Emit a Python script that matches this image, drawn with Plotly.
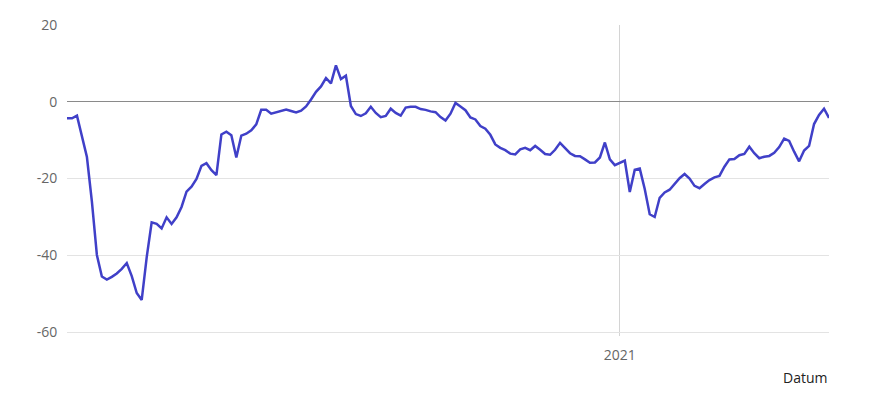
import pandas as pd
import plotly.graph_objects as go

# Values sampled every 3 days starting 2020-02-03
start_date = "2020-02-03"
step = "3D"
values = [
    -4.3, -4.3, -3.6, -9.4, -14.4, -26.0, -39.9, -45.5, -46.3, -45.6,
    -44.7, -43.5, -42.0, -45.4, -49.8, -51.6, -40.5, -31.4, -31.8, -33.0,
    -30.1, -31.8, -30.1, -27.4, -23.4, -22.1, -20.1, -16.7, -16.0, -17.8,
    -19.1, -8.5, -7.8, -8.7, -14.5, -8.8, -8.3, -7.4, -5.9, -2.1,
    -2.1, -3.1, -2.7, -2.3, -2.0, -2.4, -2.8, -2.3, -1.2, 0.6,
    2.6, 4.0, 6.2, 4.8, 9.5, 5.9, 6.8, -1.1, -3.2, -3.7,
    -3.0, -1.3, -2.9, -4.0, -3.7, -1.8, -2.9, -3.6, -1.5, -1.3,
    -1.3, -1.9, -2.1, -2.5, -2.7, -4.0, -4.9, -3.1, -0.3, -1.2,
    -2.2, -4.1, -4.6, -6.3, -7.0, -8.6, -11.1, -12.0, -12.6, -13.5,
    -13.7, -12.4, -12.0, -12.6, -11.5, -12.5, -13.6, -13.8, -12.5, -10.7,
    -12.1, -13.4, -14.1, -14.2, -15.0, -15.9, -15.8, -14.5, -10.6, -15.0,
    -16.5, -15.8, -15.3, -23.5, -17.7, -17.4, -22.7, -29.3, -30.0, -25.0,
    -23.6, -22.9, -21.4, -19.9, -18.8, -20.0, -21.9, -22.5, -21.4, -20.4,
    -19.7, -19.3, -16.9, -15.0, -14.9, -13.9, -13.6, -11.7, -13.4, -14.7,
    -14.3, -14.1, -13.3, -11.8, -9.6, -10.2, -13.0, -15.5, -12.7, -11.5,
    -5.8, -3.4, -1.8, -4.2,
]
dates = pd.date_range(start_date, periods=len(values), freq=step)

y_ticks = [-60, -40, -20, 0, 20]
y_tick_labels = ["-60", "-40", "-20", "0", "20"]
x_ticks = ["2021-01-01"]
x_tick_labels = ["2021"]
x_title = "Datum"

fig = go.Figure()
fig.add_trace(go.Scatter(
    x=dates, y=values, mode="lines",
    line=dict(color="#4040c8", width=2.5),
    hoverinfo="skip", showlegend=False,
))

fig.update_layout(
    width=873, height=402,
    margin=dict(l=59, r=52, t=17, b=74, autoexpand=False),
    paper_bgcolor="white", plot_bgcolor="white",
    font=dict(family="Open Sans, sans-serif", size=14, color="#666"),
    showlegend=False,
)
fig.update_xaxes(
    range=[dates[0], dates[-1]],
    tickvals=x_ticks, ticktext=x_tick_labels,
    showgrid=True, gridcolor="#d4d4d4", gridwidth=1,
    zeroline=False, showline=False, automargin=False,
    ticks="outside", ticklen=6, tickcolor="rgba(0,0,0,0)",
    tickfont=dict(size=14, color="#666"),
)
fig.update_yaxes(
    range=[-61, 20],
    tickvals=y_ticks, ticktext=y_tick_labels,
    showgrid=True, gridcolor="#e3e3e3", gridwidth=1,
    zeroline=True, zerolinecolor="#8a8a8a", zerolinewidth=1.2,
    showline=False, automargin=False,
    ticks="outside", ticklen=6, tickcolor="rgba(0,0,0,0)",
    tickfont=dict(size=14, color="#666"),
)
fig.add_annotation(
    text=x_title, xref="paper", yref="paper", x=1, y=0,
    xanchor="right", yanchor="top", yshift=-30, showarrow=False,
    font=dict(size=14, color="#222"),
)
fig.write_html("out.html")
